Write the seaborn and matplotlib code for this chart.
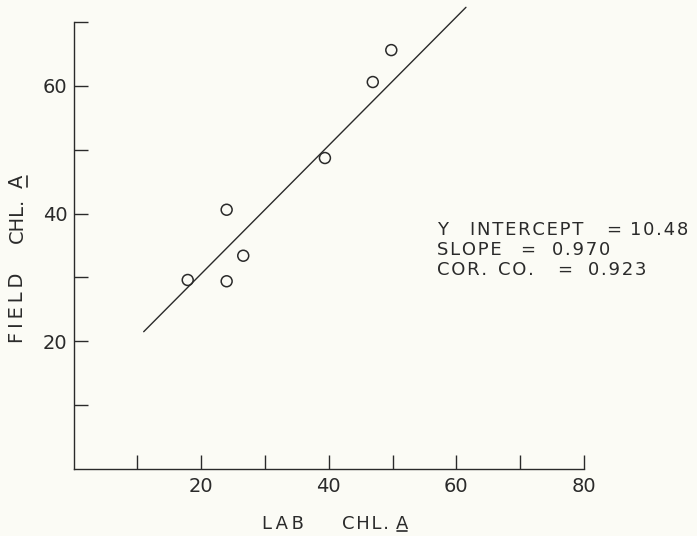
import numpy as np
import pandas as pd
import matplotlib
matplotlib.use("Agg")
import matplotlib.pyplot as plt
import seaborn as sns
from matplotlib.lines import Line2D

# data
lab_chl = [17.9, 24.0, 24.0, 26.6, 39.4, 46.9, 49.8]
field_chl = [29.6, 29.4, 40.6, 33.4, 48.7, 60.6, 65.6]
# end points of the hand-drawn regression line
fit_x = [11.0, 61.5]
fit_y = [21.5, 72.3]

x_ticks = [10, 20, 30, 40, 50, 60, 70, 80]
x_labels = ["", "20", "", "40", "", "60", "", "80"]
y_ticks = [10, 20, 30, 40, 50, 60, 70]
y_labels = ["", "20", "", "40", "", "60", ""]
stats_lines = ["Y INTERCEPT = 10.48", "SLOPE = 0.970", "COR. CO. = 0.923"]

sns.set_style("ticks")
plt.rcParams["font.family"] = ["DejaVu Sans"]
ink = "#2a2a2a"
bg = "#fbfbf5"
thin = "\u2009"
hair = "\u200a"

df = pd.DataFrame({"lab": lab_chl, "field": field_chl})
line_df = pd.DataFrame({"x": fit_x, "y": fit_y})

W, H = 697, 536
fig = plt.figure(figsize=(W / 100, H / 100), dpi=100, facecolor=bg)
ax = fig.add_axes([73.5 / W, 1 - 469 / H, (584 - 73.5) / W, (469 - 22) / H])
ax.set_facecolor(bg)

sns.lineplot(data=line_df, x="x", y="y", ax=ax, color=ink, linewidth=1.0, clip_on=False)
sns.scatterplot(data=df, x="lab", y="field", ax=ax, marker="o", s=62,
                facecolor="none", edgecolor=ink, linewidth=1.1, zorder=3)

ax.set_xlim(0, 80)
ax.set_ylim(0, 70)
ax.set_xticks(x_ticks)
ax.set_xticklabels(x_labels)
ax.set_yticks(y_ticks)
ax.set_yticklabels(y_labels)
ax.tick_params(direction="in", length=10, width=1.0, color=ink, labelsize=14,
               labelcolor=ink)
ax.tick_params(axis="y", pad=4.5)
ax.tick_params(axis="x", pad=6)
for s in ["top", "right"]:
    ax.spines[s].set_visible(False)
for s in ["left", "bottom"]:
    ax.spines[s].set_color(ink)
    ax.spines[s].set_linewidth(1.0)
ax.set_xlabel("")
ax.set_ylabel("")

# stats block, letters and words spaced out like the hand lettering
word_x = [[437, 470, 606, 630], [437, 520, 552], [437, 498, 557, 588]]
for i, txt in enumerate(stats_lines):
    for word, px in zip(txt.split(" "), word_x[i]):
        fig.text(px / W, 1 - (235 + 20 * i) / H, hair.join(word), fontsize=13,
                 color=ink, ha="left", va="baseline")

# x label with underlined A
lab_kw = dict(fontsize=13, color=ink)
base = 1 - 529 / H
fig.text(262 / W, base, thin.join("LAB"), ha="left", va="baseline", **lab_kw)
fig.text(342 / W, base, hair.join("CHL."), ha="left", va="baseline", **lab_kw)
a_x = fig.text(396 / W, base, "A", ha="left", va="baseline", **lab_kw)

# y label, rotated, baseline at x=23px
ylab_kw = dict(fontsize=14, color=ink, rotation=90, rotation_mode="anchor",
               ha="left", va="baseline")
fig.text(23 / W, 1 - 343 / H, thin.join("FIELD"), **ylab_kw)
fig.text(23 / W, 1 - 243 / H, "CHL.", **ylab_kw)
a_y = fig.text(23 / W, 1 - 188 / H, "A", **ylab_kw)

fig.canvas.draw()
r = fig.canvas.get_renderer()
bb = a_x.get_window_extent(r)
uy = (536 - 531) / H
fig.add_artist(Line2D([(bb.x0 + 1) / W, (bb.x1 - 1) / W], [uy, uy],
                      transform=fig.transFigure, color=ink, linewidth=1.2))
bb = a_y.get_window_extent(r)
ux = 27 / W
fig.add_artist(Line2D([ux, ux], [(bb.y0 + 1) / H, (bb.y1 - 1) / H],
                      transform=fig.transFigure, color=ink, linewidth=1.2))

fig.savefig("out.png", dpi=100, facecolor=bg)
